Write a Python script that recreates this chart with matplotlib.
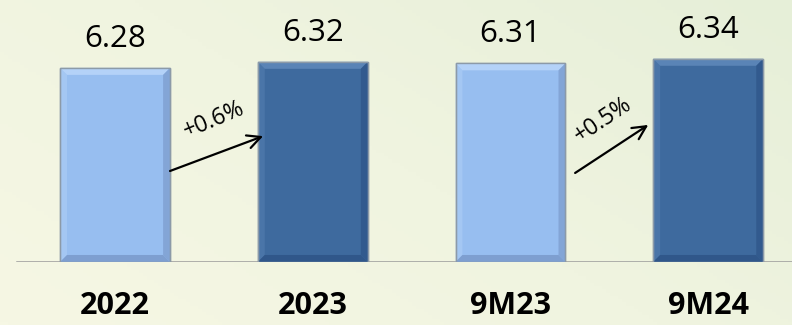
import numpy as np
import matplotlib
matplotlib.use('Agg')
import matplotlib.pyplot as plt
from matplotlib.patches import Polygon
from matplotlib.colors import LinearSegmentedColormap

categories = ['2022', '2023', '9M23', '9M24']
values = [6.28, 6.32, 6.31, 6.34]
growth_labels = ['+0.6%', '+0.5%']
growth_pairs = [(0, 1), (2, 3)]

plt.rcParams['font.family'] = ['Open Sans', 'DejaVu Sans']

fig = plt.figure(figsize=(7.92, 3.25), dpi=100)

# soft background gradient
bg = fig.add_axes([0, 0, 1, 1], zorder=-1)
gx = np.linspace(0, 1, 200)
gy = np.linspace(0, 1, 100)
X, Y = np.meshgrid(gx, gy)
grad = 0.6 * X + 0.4 * Y
cmap_bg = LinearSegmentedColormap.from_list('bg', ['#F6F7E4', '#F0F4E0', '#E6EFD8'])
bg.imshow(grad, cmap=cmap_bg, aspect='auto', extent=[0, 1, 0, 1], origin='lower')
bg.axis('off')

ax = fig.add_axes([0, 0.194, 1, 0.806])
ax.patch.set_alpha(0)

x = np.arange(len(categories))
width = 0.556
face = ['#97BEF0', '#3E6A9E', '#97BEF0', '#3E6A9E']
light = ['#B4D2F8', '#5A84B6', '#B4D2F8', '#5A84B6']
dark = ['#7E9FD0', '#30578A', '#7E9FD0', '#30578A']
ymin = 5.0

bars = ax.bar(x, [v - ymin for v in values], width, bottom=ymin, color=face,
              edgecolor='#8C9AA8', linewidth=1.0, zorder=2)

ax.set_xlim(-0.582, 3.424)
ax.set_ylim(ymin, 6.728)

# bevel edges
bx = 0.035  # bevel in x data units
by = 0.046  # bevel in y data units
for b, lc, dc in zip(bars, light, dark):
    x0, y0 = b.get_x(), b.get_y()
    x1, y1 = x0 + b.get_width(), y0 + b.get_height()
    ax.add_patch(Polygon([[x0, y1], [x1, y1], [x1 - bx, y1 - by], [x0 + bx, y1 - by]],
                         closed=True, color=lc, lw=0, zorder=3))
    ax.add_patch(Polygon([[x0, y0], [x0, y1], [x0 + bx, y1 - by], [x0 + bx, y0 + by]],
                         closed=True, color=lc, lw=0, alpha=0.45, zorder=3))
    ax.add_patch(Polygon([[x1, y0], [x1, y1], [x1 - bx, y1 - by], [x1 - bx, y0 + by]],
                         closed=True, color=dc, lw=0, alpha=0.8, zorder=3))
    ax.add_patch(Polygon([[x0, y0], [x1, y0], [x1 - bx, y0 + by], [x0 + bx, y0 + by]],
                         closed=True, color=dc, lw=0, zorder=3))
    ax.add_patch(Polygon([[x0, y0], [x1, y0], [x1, y1], [x0, y1]], closed=True,
                         fill=False, ec='#8C9AA8', lw=1.0, zorder=4))

# value labels
for xi, v in zip(x, values):
    ax.annotate(f'{v:.2f}', (xi, v), xytext=(0, 10), textcoords='offset points',
                ha='center', va='bottom', fontsize=22.5, color='black')

# growth arrows
arrow_y = [(5.60, 5.83), (5.587, 5.904)]
text_y = [5.937, 5.937]
rot = [23, 34]
for (i, j), lab, (ya, yb), ty, r in zip(growth_pairs, growth_labels, arrow_y, text_y, rot):
    xa = x[i] + width / 2
    xb = x[j] - width / 2 + (0.027 if i == 0 else -0.025)
    if i == 2:
        xa += 0.049
    ax.annotate('', xy=(xb, yb), xytext=(xa, ya),
                arrowprops=dict(arrowstyle='->', color='black', lw=1.6,
                                mutation_scale=24, shrinkA=0, shrinkB=0), zorder=5)
    tx = x[i] + 0.5 - (0.0 if i == 0 else 0.032)
    ax.text(tx, ty, lab, rotation=r, ha='center', va='center',
            fontsize=16.5, color='black', rotation_mode='anchor', zorder=5)

# baseline
ax.axhline(ymin, xmin=(17 / 792), xmax=1, color='#9A9A9A', lw=1.8, zorder=1)

for s in ax.spines.values():
    s.set_visible(False)
ax.set_yticks([])
ax.set_xticks(x)
ax.set_xticklabels(categories, fontsize=22, fontweight='bold')
ax.tick_params(axis='x', length=0, pad=21)

fig.savefig('out.png', dpi=100)
